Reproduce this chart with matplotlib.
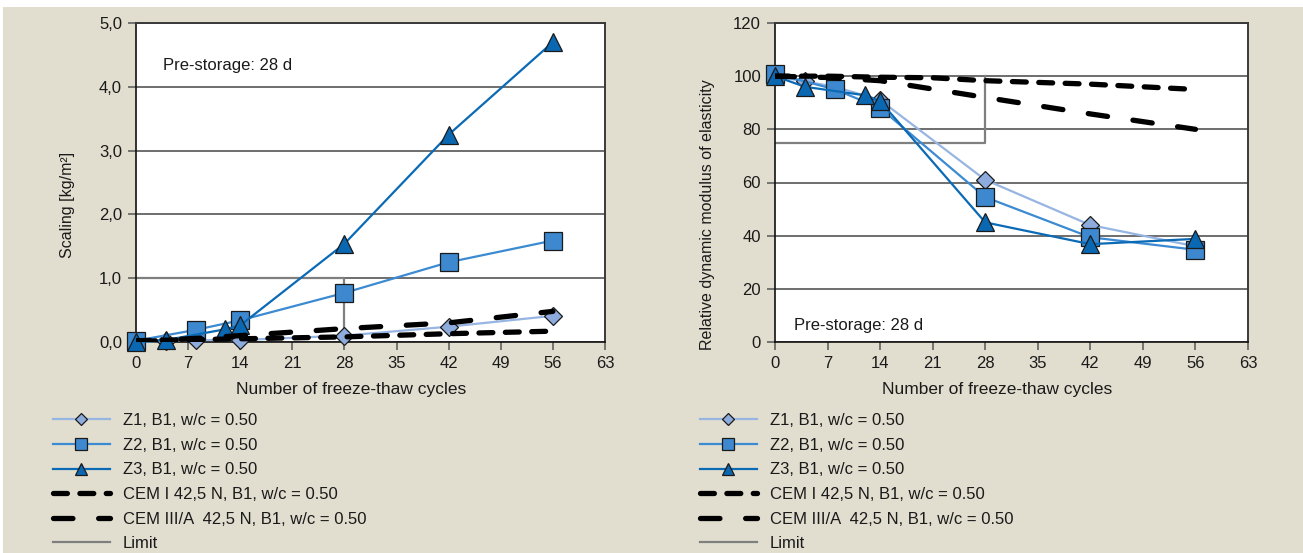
import matplotlib
matplotlib.use('Agg')
import matplotlib.pyplot as plt
from matplotlib.patches import Rectangle

plt.rcParams['font.family'] = ['Liberation Sans', 'DejaVu Sans']
plt.rcParams['lines.scale_dashes'] = False

# ---------------- data ----------------
x_ticks = [0, 7, 14, 21, 28, 35, 42, 49, 56, 63]
sc_yticks = [0, 1, 2, 3, 4, 5]
sc_yticklabels = ['0,0', '1,0', '2,0', '3,0', '4,0', '5,0']
em_yticks = [0, 20, 40, 60, 80, 100, 120]

series_labels = ['Z1, B1, w/c = 0.50', 'Z2, B1, w/c = 0.50', 'Z3, B1, w/c = 0.50',
                 'CEM I 42,5 N, B1, w/c = 0.50', 'CEM III/A  42,5 N, B1, w/c = 0.50', 'Limit']

# Scaling [kg/m2]
sc_z1_x = [0, 4, 8, 14, 28, 42, 56]
sc_z1_y = [0.0, 0.02, 0.03, 0.03, 0.10, 0.24, 0.41]
sc_z2_x = [0, 8, 14, 28, 42, 56]
sc_z2_y = [0.02, 0.19, 0.34, 0.77, 1.25, 1.59]
sc_z3_x = [0, 4, 12, 14, 28, 42, 56]
sc_z3_y = [0.0, 0.03, 0.20, 0.26, 1.54, 3.25, 4.70]
sc_cem1_x = [0, 14, 28, 42, 56]
sc_cem1_y = [0.02, 0.05, 0.08, 0.13, 0.17]
sc_cem3_x = [0, 7, 14, 28, 42, 56]
sc_cem3_y = [0.0, 0.05, 0.10, 0.21, 0.30, 0.48]
sc_limit_x = [0, 28, 28]
sc_limit_y = [1.0, 1.0, 0.0]

# Relative dynamic modulus of elasticity
em_z1_x = [0, 4, 8, 14, 28, 42, 56]
em_z1_y = [100, 98, 96, 91, 61, 44, 36]
em_z2_x = [0, 8, 14, 28, 42, 56]
em_z2_y = [101, 95, 88, 54.5, 39.4, 34.7]
em_z3_x = [0, 4, 12, 14, 28, 42, 56]
em_z3_y = [100, 96, 92.8, 90.6, 45, 36.8, 38.8]
em_cem1_x = [0, 7, 14, 21, 28, 42, 56]
em_cem1_y = [100, 100, 99.6, 99.4, 98.3, 97, 95]
em_cem3_x = [0, 7, 14, 28, 42, 56]
em_cem3_y = [100, 99.5, 98.3, 92, 85.8, 80]
em_limit_x = [0, 28, 28]
em_limit_y = [75, 75, 100]

# ---------------- style ----------------
BG = '#E1DED0'
C_Z1_LINE, C_Z1_FACE = '#97B5E2', '#8DACDD'
C_Z2_LINE, C_Z2_FACE = '#3B8AD2', '#3D88CE'
C_Z3_LINE, C_Z3_FACE = '#0B6AB5', '#0A68B2'
GRID = '#555555'
FS = 12

W, H = 1303, 553
fig = plt.figure(figsize=(W / 100, H / 100), dpi=100, facecolor=BG)
fig.patches.append(Rectangle((0, 1 - 7 / H), 1, 7 / H, transform=fig.transFigure,
                             facecolor='white', edgecolor='none', zorder=-10))
fig.patches.append(Rectangle((0, 0), 3 / W, 1, transform=fig.transFigure,
                             facecolor='white', edgecolor='none', zorder=-10))

ax1 = fig.add_axes([136 / W, (H - 342) / H, 469 / W, 319 / H])
ax2 = fig.add_axes([775 / W, (H - 342) / H, 473 / W, 319 / H])


def draw(ax, d, lim_y, yticks, ylabels):
    (z1x, z1y), (z2x, z2y), (z3x, z3y), (c1x, c1y), (c3x, c3y), (lx, ly) = d
    ax.set_facecolor('white')
    ax.plot(lx, ly, color='#7F7F7F', lw=1.6, zorder=2, label=series_labels[5])
    ax.plot(z1x, z1y, color=C_Z1_LINE, lw=1.6, marker='D', ms=9,
            mfc=C_Z1_FACE, mec='#1a1a1a', mew=0.9, clip_on=False, zorder=4,
            label=series_labels[0])
    ax.plot(z2x, z2y, color=C_Z2_LINE, lw=1.6, marker='s', ms=12.5,
            mfc=C_Z2_FACE, mec='#1a1a1a', mew=0.9, clip_on=False, zorder=4,
            label=series_labels[1])
    ax.plot(z3x, z3y, color=C_Z3_LINE, lw=1.6, marker='^', ms=12.5,
            mfc=C_Z3_FACE, mec='#1a1a1a', mew=0.9, clip_on=False, zorder=4,
            label=series_labels[2])
    ax.plot(c1x, c1y, color='black', lw=3.8, dashes=(10, 9),
            dash_capstyle='round', zorder=5, label=series_labels[3])
    ax.plot(c3x, c3y, color='black', lw=3.8, dashes=(14, 18.5),
            dash_capstyle='round', zorder=5, label=series_labels[4])
    ax.set_xlim(0, 63)
    ax.set_ylim(*lim_y)
    ax.set_xticks(x_ticks)
    ax.set_yticks(yticks)
    ax.set_yticklabels(ylabels)
    ax.yaxis.grid(True, color=GRID, lw=1.2)
    ax.set_axisbelow(True)
    ax.tick_params(direction='out', length=6, width=1.1, color=GRID,
                   labelsize=FS, pad=4, labelcolor='#1a1a1a')
    for s in ['left', 'bottom']:
        ax.spines[s].set_color('#111111')
        ax.spines[s].set_linewidth(1.2)
    for s in ['top', 'right']:
        ax.spines[s].set_color('#3a3a3a')
        ax.spines[s].set_linewidth(1.4)
    ax.set_xlabel('Number of freeze-thaw cycles', fontsize=12.5, color='#1a1a1a')


draw(ax1, [(sc_z1_x, sc_z1_y), (sc_z2_x, sc_z2_y), (sc_z3_x, sc_z3_y),
           (sc_cem1_x, sc_cem1_y), (sc_cem3_x, sc_cem3_y), (sc_limit_x, sc_limit_y)],
     (0, 5), sc_yticks, sc_yticklabels)
draw(ax2, [(em_z1_x, em_z1_y), (em_z2_x, em_z2_y), (em_z3_x, em_z3_y),
           (em_cem1_x, em_cem1_y), (em_cem3_x, em_cem3_y), (em_limit_x, em_limit_y)],
     (0, 120), em_yticks, [str(v) for v in em_yticks])

ax1.set_ylabel('Scaling [kg/m²]', fontsize=11.5, color='#1a1a1a')
ax2.set_ylabel('Relative dynamic modulus of elasticity', fontsize=11.5, color='#1a1a1a')
ax1.xaxis.set_label_coords(0.458, -0.125)
ax2.xaxis.set_label_coords(0.47, -0.125)
ax1.yaxis.set_label_coords(-0.13, 0.43)
ax2.yaxis.set_label_coords(-0.127, 0.40)

ax1.text(0.058, 0.868, 'Pre-storage: 28 d', transform=ax1.transAxes, fontsize=FS,
         va='center', ha='left', color='#1a1a1a')
ax2.text(0.04, 0.053, 'Pre-storage: 28 d', transform=ax2.transAxes, fontsize=FS,
         va='center', ha='left', color='#1a1a1a')

for ax, x0 in [(ax1, 53), (ax2, 700)]:
    hs, ls = ax.get_legend_handles_labels()
    hmap = dict(zip(ls, hs))
    hh = [hmap[l] for l in series_labels]
    fig.legend(hh, series_labels, loc='upper left',
               bbox_to_anchor=(x0 / W, 1 - 413 / H), frameon=False,
               fontsize=FS, handlelength=3.4, handletextpad=0.8,
               borderpad=0, borderaxespad=0, labelspacing=0.58,
               markerscale=0.72, labelcolor='#1a1a1a')

fig.savefig('out.png', dpi=100, facecolor=BG)
